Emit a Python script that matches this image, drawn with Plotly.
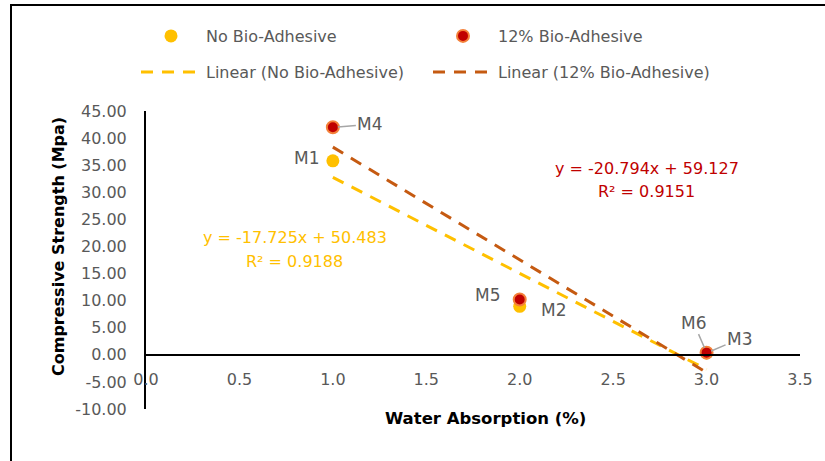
import numpy as np
import plotly.graph_objects as go

# ---------------- data ----------------
water_absorption = [1.0, 2.0, 3.0]
no_bio = [35.80, 8.95, 0.35]          # No Bio-Adhesive (M1, M2, M3)
bio12 = [41.99, 10.22, 0.40]          # 12% Bio-Adhesive (M4, M5, M6)
no_bio_labels = ["M1", "M2", "M3"]
bio12_labels = ["M4", "M5", "M6"]
eq_no_bio = ["y = -17.725x + 50.483", "R² = 0.9188"]
eq_bio12 = ["y = -20.794x + 59.127", "R² = 0.9151"]
x_ticks = [0.0, 0.5, 1.0, 1.5, 2.0, 2.5, 3.0, 3.5]
y_ticks = [-10, -5, 0, 5, 10, 15, 20, 25, 30, 35, 40, 45]
y_tick_text = [f"{v:.2f}" for v in y_ticks]
x_range = [0, 3.5]
y_range = [-10, 45]

# ---------------- styling ----------------
FONT = "DejaVu Sans"
GOLD = "#FFC000"
RED = "#C00000"
BROWN = "#C55A11"
GRAY = "#595959"

W, H = 825, 461
ML, MR, MT, MB = 146, 25, 111, 52
PW, PH = W - ML - MR, H - MT - MB


def px_to_paper_x(px):
    return (px - ML) / PW


def px_to_paper_y(py):
    return (H - MB - py) / PH


fig = go.Figure()

# linear trendlines (least squares on the data)
def trend(xs, ys):
    m, b = np.polyfit(xs, ys, 1)
    xf = [min(xs), max(xs)]
    return xf, [m * v + b for v in xf]

fig.add_trace(go.Scatter(
    x=water_absorption, y=no_bio, mode="markers", name="No Bio-Adhesive",
    marker=dict(color=GOLD, size=13, line=dict(color=GOLD, width=0)),
    legend="legend", hoverinfo="skip"))
fig.add_trace(go.Scatter(
    x=water_absorption, y=bio12, mode="markers", name="12% Bio-Adhesive",
    marker=dict(color=RED, size=12, line=dict(color="#F4813A", width=2)),
    legend="legend", hoverinfo="skip"))

tx, ty = trend(water_absorption, no_bio)
fig.add_trace(go.Scatter(
    x=tx, y=ty, mode="lines", name="Linear (No Bio-Adhesive)",
    line=dict(color=GOLD, width=3, dash="12px,9px"),
    legend="legend2", hoverinfo="skip"))
tx, ty = trend(water_absorption, bio12)
fig.add_trace(go.Scatter(
    x=tx, y=ty, mode="lines", name="Linear (12% Bio-Adhesive)",
    line=dict(color=BROWN, width=3, dash="12px,9px"),
    legend="legend2", hoverinfo="skip"))

annotations = []
# data labels (offsets in px from the point)
label_offsets_no_bio = [(-26, -3, False), (34, 4, False), (33, -14, True)]
label_offsets_bio12 = [(37, -3, True), (-32, -4, False), (-13, -30, True)]
for xs, ys, labels, offs in [
    (water_absorption, no_bio, no_bio_labels, label_offsets_no_bio),
    (water_absorption, bio12, bio12_labels, label_offsets_bio12),
]:
    for xv, yv, lab, (dx, dy, arrow) in zip(xs, ys, labels, offs):
        if arrow:
            annotations.append(dict(
                x=xv, y=yv, xref="x", yref="y", text=lab, showarrow=True,
                ax=dx, ay=dy, arrowhead=0, arrowwidth=1.5, arrowcolor="#A6A6A6",
                standoff=5, font=dict(family=FONT, size=17, color=GRAY)))
        else:
            annotations.append(dict(
                x=xv, y=yv, xref="x", yref="y", text=lab, showarrow=False,
                xshift=dx, yshift=-dy, font=dict(family=FONT, size=17, color=GRAY)))

# trendline equations
for (xc, y1, y2), lines, col in [
    ((0.797, 21.6, 17.17), eq_no_bio, GOLD),
    ((2.681, 34.33, 30.09), eq_bio12, RED),
]:
    annotations.append(dict(x=xc, y=y1, xref="x", yref="y", text=lines[0],
                            showarrow=False, font=dict(family=FONT, size=16, color=col)))
    annotations.append(dict(x=xc, y=y2, xref="x", yref="y", text=lines[1],
                            showarrow=False, font=dict(family=FONT, size=16, color=col)))

# axis titles
annotations.append(dict(x=px_to_paper_x(486), y=px_to_paper_y(418), xref="paper", yref="paper",
                        xanchor="center", yanchor="middle",
                        text="<b>Water Absorption (%)</b>", showarrow=False,
                        font=dict(family=FONT, size=16.5, color="#000000")))
annotations.append(dict(x=px_to_paper_x(58), y=px_to_paper_y(247), xref="paper", yref="paper",
                        xanchor="center", yanchor="middle",
                        text="<b>Compressive Strength (Mpa)</b>", showarrow=False, textangle=-90,
                        font=dict(family=FONT, size=16, color="#000000")))

zero_pos = (0 - y_range[0]) / (y_range[1] - y_range[0])

fig.update_layout(
    width=W, height=H,
    margin=dict(l=ML, r=MR, t=MT, b=MB),
    paper_bgcolor="white", plot_bgcolor="white",
    font=dict(family=FONT, size=16, color=GRAY),
    annotations=annotations,
    xaxis=dict(range=x_range, tickvals=x_ticks, tickformat=".1f", showgrid=False,
               zeroline=False, showline=True, linecolor="black", linewidth=2,
               anchor="free", position=zero_pos, ticks="", ticklabelstandoff=10,
               tickfont=dict(family=FONT, size=16, color=GRAY)),
    yaxis=dict(range=y_range, tickvals=y_ticks, ticktext=y_tick_text, showgrid=False,
               zeroline=False, showline=True, linecolor="black", linewidth=2,
               ticks="", ticklabelstandoff=14,
               tickfont=dict(family=FONT, size=16, color=GRAY)),
    legend=dict(orientation="h", x=px_to_paper_x(136), xanchor="left",
                y=px_to_paper_y(36), yanchor="middle", itemwidth=60,
                entrywidth=217, entrywidthmode="pixels", bgcolor="rgba(0,0,0,0)",
                font=dict(family=FONT, size=16, color=GRAY)),
    legend2=dict(orientation="h", x=px_to_paper_x(136), xanchor="left",
                 y=px_to_paper_y(72), yanchor="middle", itemwidth=60,
                 entrywidth=217, entrywidthmode="pixels", bgcolor="rgba(0,0,0,0)",
                 font=dict(family=FONT, size=16, color=GRAY)),
    shapes=[dict(type="rect", xref="paper", yref="paper",
                 x0=px_to_paper_x(11), x1=px_to_paper_x(840),
                 y0=px_to_paper_y(475), y1=px_to_paper_y(5),
                 line=dict(color="black", width=2), layer="below")],
    showlegend=True,
)

fig.write_html("out.html")
